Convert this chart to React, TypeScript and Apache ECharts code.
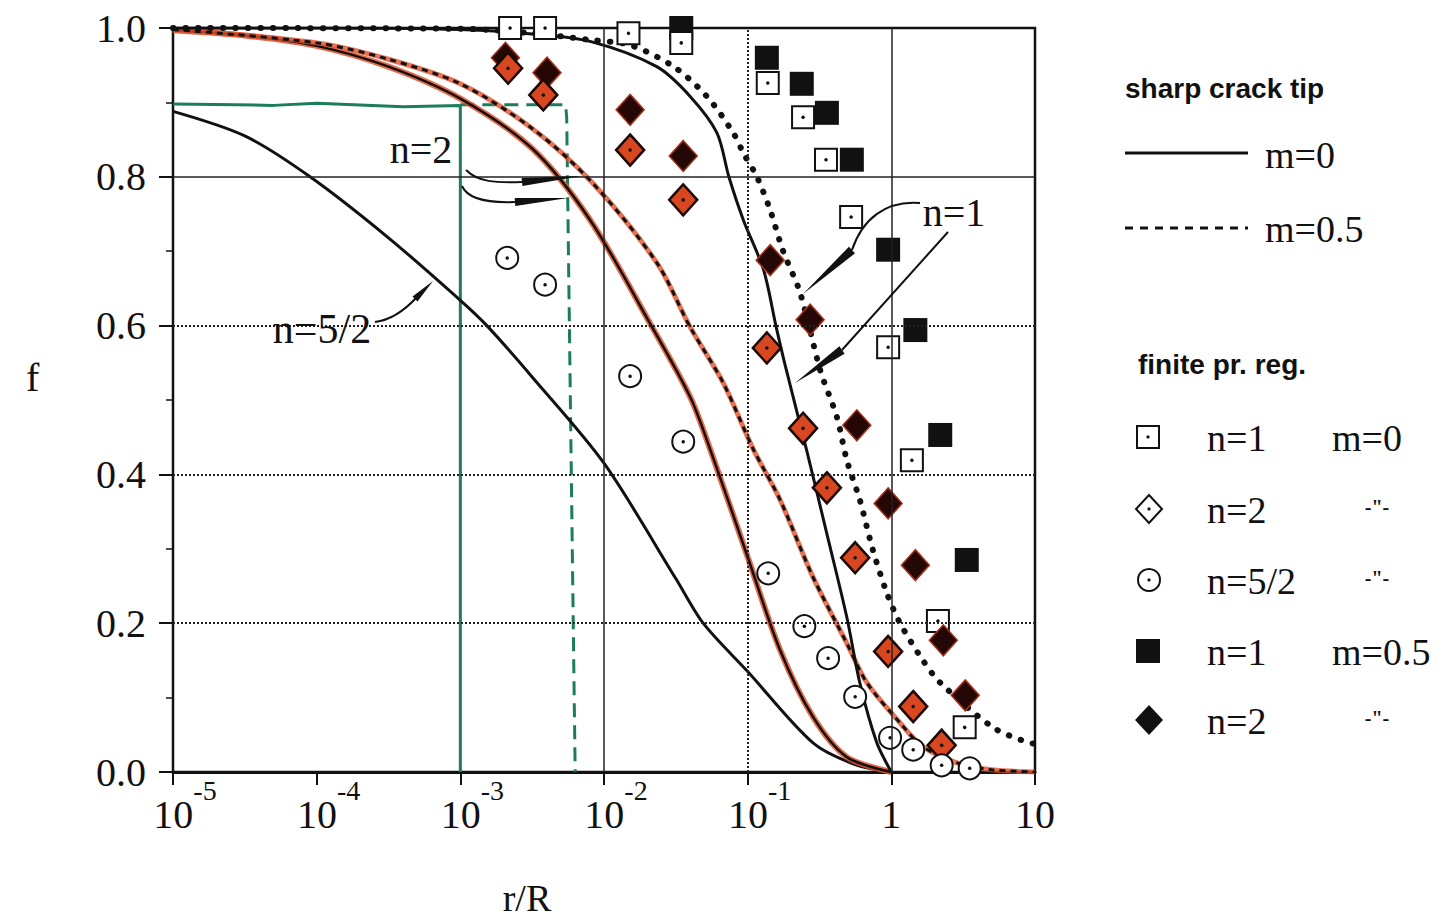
import React, { useEffect, useRef } from "react";
import * as echarts from "echarts";

type P = [number, number];

// axis ticks
const xTickValues = [1e-5, 1e-4, 1e-3, 1e-2, 1e-1, 1, 10];
const yMin = 0;
const yMax = 1;
const yStep = 0.2;

// grid lines: [value, style]
const vGrid: [number, string][] = [[1e-4, "solid"], [1e-3, "dotted"], [1e-2, "solid"], [1e-1, "dotted"], [1, "solid"]];
const hGrid: [number, string][] = [[0.8, "solid"], [0.6, "dotted"], [0.4, "dotted"], [0.2, "dotted"]];

// sharp crack tip curves  [r/R, f]
const sharpN1M0: P[] = [
  [1e-5, 1.0], [1e-4, 1.0], [1e-3, 0.998], [0.00316, 0.992], [0.008, 0.982], [0.0233, 0.948],
  [0.0398, 0.908], [0.0611, 0.859], [0.074, 0.8], [0.0933, 0.742], [0.129, 0.675], [0.158, 0.598],
  [0.186, 0.54], [0.257, 0.433], [0.355, 0.321], [0.49, 0.208], [0.603, 0.12], [0.79, 0.04], [1, 0],
];
const sharpN1M05: P[] = [
  [1e-5, 1.0], [1e-3, 0.999], [0.00316, 0.993], [0.008, 0.984], [0.0152, 0.977], [0.0306, 0.948],
  [0.052, 0.908], [0.0794, 0.859], [0.0933, 0.832], [0.116, 0.8], [0.1435, 0.755], [0.1766, 0.7],
  [0.232, 0.644], [0.32, 0.54], [0.418, 0.477], [0.49, 0.419], [0.603, 0.366], [0.74, 0.3],
  [0.933, 0.24], [1.15, 0.2], [1.66, 0.15], [2.19, 0.12], [5.1, 0.06], [8.8, 0.04], [10, 0.038],
];
const sharpN2M0: P[] = [
  [1e-5, 0.997], [3.16e-5, 0.99], [1e-4, 0.976], [3.16e-4, 0.948], [1e-3, 0.905], [0.00316, 0.838],
  [0.008, 0.742], [0.0209, 0.603], [0.0398, 0.504], [0.055, 0.433], [0.1, 0.289], [0.168, 0.164],
  [0.285, 0.074], [0.49, 0.02], [1, 0],
];
const sharpN2M05: P[] = [
  [1e-5, 0.998], [1e-4, 0.98], [3.16e-4, 0.958], [1e-3, 0.925], [0.00316, 0.865], [0.0083, 0.792],
  [0.0234, 0.684], [0.0398, 0.598], [0.0676, 0.523], [0.11, 0.433], [0.168, 0.366], [0.285, 0.262],
  [0.49, 0.173], [0.676, 0.12], [1.15, 0.066], [1.66, 0.034], [2.9, 0.012], [5, 0.003], [10, 0],
];
const sharpN52M0: P[] = [
  [1e-5, 0.888], [3.16e-5, 0.855], [9e-5, 0.8], [3.16e-4, 0.718], [1e-3, 0.634], [0.00153, 0.6],
  [0.00316, 0.531], [0.01, 0.415], [0.0316, 0.26], [0.049, 0.2], [0.1, 0.135], [0.285, 0.039],
  [0.56, 0.01], [1, 0],
];
// green lines
const greenSolid: P[] = [[1e-5, 0.898], [5e-5, 0.896], [1e-4, 0.899], [4e-4, 0.894], [1e-3, 0.896], [1e-3, 0]];
const greenDashed: P[] = [[1e-3, 0.897], [0.0054, 0.897], [0.0055, 0.88], [0.0063, 0]];

// finite process region points
const fprN1M0: P[] = [
  [0.00222, 1.0], [0.00389, 1.0], [0.0148, 0.993], [0.0345, 0.98], [0.138, 0.926], [0.243, 0.88],
  [0.351, 0.823], [0.525, 0.746], [0.95, 0.571], [1.39, 0.419], [2.11, 0.203], [3.24, 0.06],
];
const fprN2M0: P[] = [
  [0.00215, 0.946], [0.00378, 0.91], [0.0152, 0.836], [0.0356, 0.769], [0.136, 0.57], [0.243, 0.462],
  [0.356, 0.382], [0.56, 0.288], [0.95, 0.162], [1.42, 0.088], [2.24, 0.036],
];
const fprN52M0: P[] = [
  [0.00212, 0.691], [0.00389, 0.655], [0.0152, 0.532], [0.0356, 0.444], [0.139, 0.267], [0.248, 0.196],
  [0.363, 0.153], [0.56, 0.101], [0.98, 0.046], [1.42, 0.03], [2.24, 0.009], [3.51, 0.005],
];
const fprN1M05: P[] = [
  [0.0345, 1.0], [0.136, 0.96], [0.238, 0.925], [0.356, 0.886], [0.531, 0.823], [0.95, 0.702],
  [1.47, 0.594], [2.19, 0.453], [3.35, 0.285],
];
const fprN2M05: P[] = [
  [0.00206, 0.96], [0.00401, 0.94], [0.0152, 0.89], [0.0356, 0.828], [0.1435, 0.688], [0.272, 0.608],
  [0.575, 0.466], [0.95, 0.361], [1.47, 0.278], [2.3, 0.177], [3.27, 0.103],
];

const SERIF = '"Liberation Serif", "Times New Roman", serif';
const SANS = '"Liberation Sans", Arial, sans-serif';
const INK = "#111";
const RED = "#e0502a";
const GREEN = "#1b7d5c";

function wedge(x1: number, y1: number, x2: number, y2: number, w: number) {
  const dx = x2 - x1, dy = y2 - y1;
  const L = Math.hypot(dx, dy);
  const nx = -dy / L, ny = dx / L;
  return {
    type: "polygon",
    shape: { points: [[x1 + nx * w / 2, y1 + ny * w / 2], [x2, y2], [x1 - nx * w / 2, y1 - ny * w / 2]] },
    style: { fill: INK },
    z: 100,
  };
}
function curve(x1: number, y1: number, c1x: number, c1y: number, c2x: number, c2y: number, x2: number, y2: number) {
  return {
    type: "bezierCurve",
    shape: { x1, y1, cpx1: c1x, cpy1: c1y, cpx2: c2x, cpy2: c2y, x2, y2 },
    style: { stroke: INK, lineWidth: 2, fill: null },
    z: 100,
  };
}
function txt(x: number, y: number, text: string, size: number, family: string, weight = "normal", align = "left") {
  return {
    type: "text",
    x, y, z: 100,
    style: {
      text, fontSize: size, fontFamily: family, fontWeight: weight, fill: INK,
      align, verticalAlign: "middle", textAlign: align, textVerticalAlign: "middle",
    },
  };
}
function dot(x: number, y: number) {
  return { type: "circle", shape: { cx: x, cy: y, r: 1.6 }, style: { fill: INK }, z: 101 };
}
function diamondPts(cx: number, cy: number, hw: number, hh: number) {
  return [[cx, cy - hh], [cx + hw, cy], [cx, cy + hh], [cx - hw, cy]];
}

function buildGraphic() {
  const g: any[] = [];
  // axis titles
  g.push(txt(26, 377, "f", 40, SERIF));
  g.push(txt(527, 898, "r/R", 38, SERIF, "normal", "center"));
  // annotations
  g.push(txt(421, 149, "n=2", 40, SERIF, "normal", "center"));
  g.push(curve(466, 170, 478, 182, 495, 183, 522, 182));
  g.push(wedge(522, 182, 582, 176, 8));
  g.push(curve(462, 186, 468, 200, 490, 203, 515, 202));
  g.push(wedge(515, 202, 568, 198, 8));
  g.push(txt(322, 329, "n=5/2", 42, SERIF, "normal", "center"));
  g.push(curve(375, 322, 392, 320, 405, 310, 417, 297));
  g.push(wedge(415, 299, 433, 281, 7));
  g.push(txt(954, 212, "n=1", 40, SERIF, "normal", "center"));
  g.push(curve(920, 203, 885, 200, 862, 220, 852, 250));
  g.push(wedge(852, 250, 803, 294, 9));
  g.push({ type: "line", shape: { x1: 948, y1: 232, x2: 842, y2: 350 }, style: { stroke: INK, lineWidth: 2 }, z: 100 });
  g.push(wedge(842, 350, 795, 383, 9));
  // legend: sharp crack tip
  g.push(txt(1125, 88, "sharp crack tip", 28, SANS, "bold"));
  g.push({ type: "line", shape: { x1: 1125, y1: 153, x2: 1248, y2: 153 }, style: { stroke: INK, lineWidth: 3 }, z: 100 });
  g.push(txt(1265, 155, "m=0", 38, SERIF));
  g.push({ type: "line", shape: { x1: 1125, y1: 228, x2: 1248, y2: 228 }, style: { stroke: INK, lineWidth: 3, lineDash: [8, 7] }, z: 100 });
  g.push(txt(1265, 229, "m=0.5", 38, SERIF));
  // legend: finite pr. reg.
  g.push(txt(1138, 364, "finite pr. reg.", 28, SANS, "bold"));
  const rows = [437, 509, 580, 651, 720];
  g.push({ type: "rect", shape: { x: 1137, y: rows[0] - 11, width: 22, height: 22 }, style: { fill: "#fff", stroke: INK, lineWidth: 2 }, z: 100 });
  g.push(dot(1148, rows[0]));
  g.push({ type: "polygon", shape: { points: diamondPts(1149, rows[1], 13, 14) }, style: { fill: "#fff", stroke: INK, lineWidth: 2 }, z: 100 });
  g.push(dot(1149, rows[1]));
  g.push({ type: "circle", shape: { cx: 1149, cy: rows[2], r: 11 }, style: { fill: "#fff", stroke: INK, lineWidth: 2 }, z: 100 });
  g.push(dot(1149, rows[2]));
  g.push({ type: "rect", shape: { x: 1136, y: rows[3] - 12, width: 24, height: 24 }, style: { fill: INK }, z: 100 });
  g.push({ type: "polygon", shape: { points: diamondPts(1149, rows[4], 14, 15) }, style: { fill: INK }, z: 100 });
  const labs = ["n=1", "n=2", "n=5/2", "n=1", "n=2"];
  const col3 = ["m=0", '-"-', '-"-', "m=0.5", '-"-'];
  rows.forEach((y, i) => {
    g.push(txt(1207, y + 1, labs[i], 38, SERIF));
    if (col3[i].startsWith("m")) g.push(txt(1332, y + 1, col3[i], 38, SERIF));
    else g.push(txt(1377, y - 2, col3[i], 20, SERIF, "bold", "center"));
  });
  return g;
}

export default function App() {
  const ref = useRef<HTMLDivElement>(null);
  useEffect(() => {
    if (!ref.current) return;
    const chart = echarts.init(ref.current, null, { renderer: "svg" });

    const lineS = (name: string, data: P[], style: any, smooth: any = 0.3) => ({
      name, type: "line", data, showSymbol: false, symbol: "none", smooth,
      lineStyle: style, silent: true, z: 3,
    });
    const scat = (name: string, data: P[], symbol: string, size: any, itemStyle: any) => ({
      name, type: "scatter", data, symbol, symbolSize: size, itemStyle: { opacity: 1, ...itemStyle }, clip: false, silent: true, z: 4,
    });

    const option: any = {
      animation: false,
      backgroundColor: "#fff",
      grid: { left: 173, top: 28, width: 862, height: 744, show: true, borderColor: INK, borderWidth: 2.5, backgroundColor: "transparent" },
      xAxis: {
        type: "log", logBase: 10, min: xTickValues[0], max: xTickValues[xTickValues.length - 1], splitNumber: 6,
        axisLine: { show: true, lineStyle: { color: INK, width: 3 } },
        axisTick: { show: true, length: 13, lineStyle: { color: INK, width: 2 }, customValues: xTickValues },
        splitLine: { show: false },
        minorTick: { show: false },
        axisLabel: {
          customValues: xTickValues,
          margin: 4,
          formatter: (v: number) => {
            const e = Math.round(Math.log10(v));
            if (e >= 0) return `{c|${Math.round(Math.pow(10, e))}}`;
            return `{b|10}{s|${e}}`;
          },
          rich: {
            b: { fontSize: 40, fontFamily: SERIF, color: INK, verticalAlign: "bottom", padding: [18, 0, 0, 24] },
            c: { fontSize: 40, fontFamily: SERIF, color: INK, verticalAlign: "bottom", padding: [18, 0, 0, 0] },
            s: { fontSize: 28, fontFamily: SERIF, color: INK, verticalAlign: "top" },
          },
        },
      },
      yAxis: {
        type: "value", min: yMin, max: yMax, interval: yStep,
        axisLine: { show: true, lineStyle: { color: INK, width: 2 } },
        axisTick: { show: true, length: 14, lineStyle: { color: INK, width: 2 } },
        minorTick: { show: true, splitNumber: 2, length: 7, lineStyle: { color: INK, width: 1.5 } },
        splitLine: { show: false },
        axisLabel: { margin: 27, fontSize: 40, fontFamily: SERIF, color: INK, formatter: (v: number) => v.toFixed(1) },
      },
      series: [
        {
          name: "grid", type: "line", data: [], silent: true, z: 1,
          markLine: {
            silent: true, symbol: "none", label: { show: false }, animation: false,
            data: [
              ...vGrid.map(([v, t]) => ({ xAxis: v, lineStyle: { type: t === "dotted" ? [2, 2] : "solid", color: "#222", width: t === "dotted" ? 2 : 1.5 } })),
              ...hGrid.map(([v, t]) => ({ yAxis: v, lineStyle: { type: t === "dotted" ? [2, 2] : "solid", color: "#222", width: t === "dotted" ? 2 : 1.5 } })),
            ],
          },
        },
        lineS("green solid", greenSolid, { color: GREEN, width: 3 }, false),
        lineS("green dashed", greenDashed, { color: GREEN, width: 3, type: [14, 8] }, false),
        lineS("n=5/2 m=0", sharpN52M0, { color: INK, width: 3 }),
        lineS("n=2 m=0 red", sharpN2M0, { color: RED, width: 6, opacity: 0.85 }),
        lineS("n=2 m=0", sharpN2M0, { color: INK, width: 2.5 }),
        lineS("n=2 m=0.5 red", sharpN2M05, { color: RED, width: 5, opacity: 0.8 }),
        lineS("n=2 m=0.5", sharpN2M05, { color: INK, width: 3, type: [6, 5] }),
        lineS("n=1 m=0", sharpN1M0, { color: INK, width: 3 }),
        lineS("n=1 m=0.5", sharpN1M05, { color: INK, width: 6, type: [0.5, 12], cap: "round" }),
        scat("fpr n=1 m=0.5", fprN1M05, "rect", 24, { color: INK }),
        scat("fpr n=1 m=0", fprN1M0, "rect", 22, { color: "#fff", borderColor: INK, borderWidth: 2 }),
        scat("fpr n=2 m=0.5", fprN2M05, "diamond", [28, 31], { color: "#240805", borderColor: "#a8301a", borderWidth: 1.5 }),
        scat("fpr n=2 m=0", fprN2M0, "diamond", [28, 31], { color: "#d8471f", borderColor: "#1a0805", borderWidth: 2.5 }),
        scat("fpr n=5/2 m=0", fprN52M0, "circle", 22, { color: "#fff", borderColor: INK, borderWidth: 2 }),
        scat("dots", [...fprN1M0, ...fprN2M0, ...fprN52M0], "circle", 3.5, { color: INK }),
      ],
      graphic: { elements: buildGraphic() },
    };
    chart.setOption(option);
    return () => chart.dispose();
  }, []);
  return <div ref={ref} style={{ position: "absolute", left: 0, top: 0, width: 1449, height: 923, background: "#fff" }} />;
}
